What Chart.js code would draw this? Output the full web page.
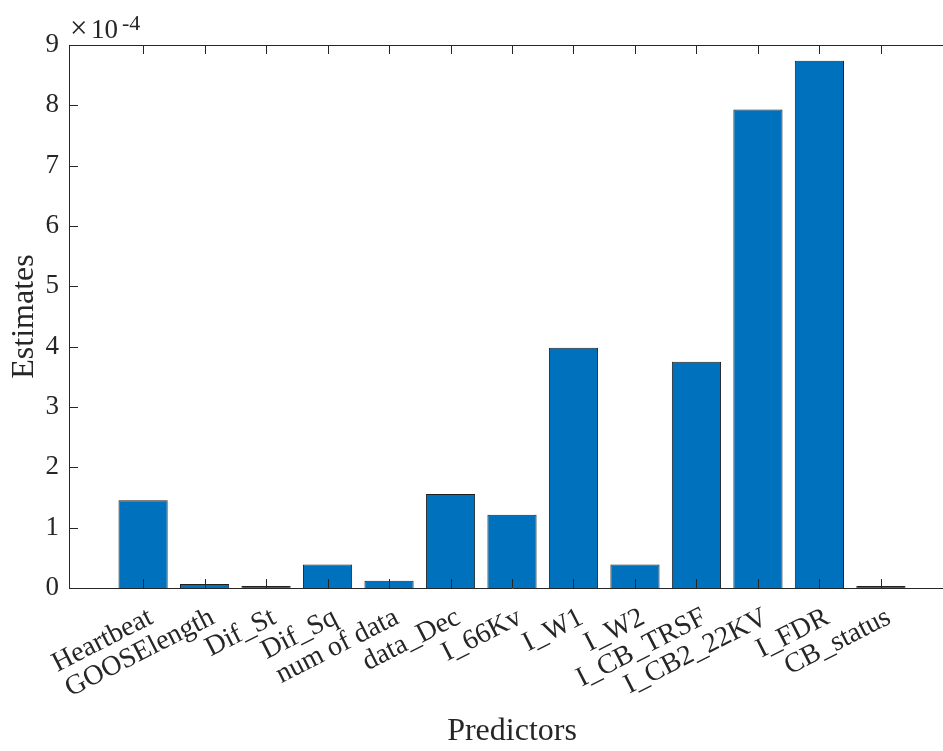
<!DOCTYPE html>
<html>
<head>
<meta charset="utf-8">
<script src="https://cdn.jsdelivr.net/npm/chart.js@4/dist/chart.umd.min.js"></script>
<style>
  html, body { margin: 0; padding: 0; background: #fff; overflow: hidden; }
  #wrap { width: 943px; height: 751px; overflow: hidden; }
  canvas { display: block; }
</style>
</head>
<body>
<div id="wrap"><canvas id="c" width="960" height="751"></canvas></div>
<script>
// Predictor names along the x axis
const predictors = ['Heartbeat', 'GOOSElength', 'Dif_St', 'Dif_Sq', 'num of data', 'data_Dec',
  'I_66Kv', 'I_W1', 'I_W2', 'I_CB_TRSF', 'I_CB2_22KV', 'I_FDR', 'CB_status'];
// Importance estimates, in units of 1e-4
const estimates = [1.455, 0.065, 0.03, 0.39, 0.12, 1.56, 1.215, 3.98, 0.39, 3.75, 7.93, 8.74, 0.005];
// y-axis tick values (same units)
const yTicks = [0, 1, 2, 3, 4, 5, 6, 7, 8, 9];
const exponentLabel = '-4';

const AXIS = '#262626';
const FONT = '"Liberation Serif", "Times New Roman", serif';
const TICK_PX = 28;
const TITLE_PX = 32;
const TICK_LEN = 9;

// Inward tick marks, full box outline and the axis multiplier
const matlabAxes = {
  id: 'matlabAxes',
  afterDraw(chart) {
    const { ctx, chartArea: a, scales } = chart;
    const xs = scales.x, ys = scales.y;
    ctx.save();
    ctx.strokeStyle = AXIS;
    ctx.lineWidth = 1;
    ctx.beginPath();
    // box
    ctx.moveTo(a.left, a.top + 0.5); ctx.lineTo(a.right, a.top + 0.5);
    ctx.moveTo(a.right - 0.5, a.top); ctx.lineTo(a.right - 0.5, a.bottom);
    // x ticks, bottom and top
    for (let i = 0; i < predictors.length; i++) {
      const px = Math.round(xs.getPixelForValue(i + 1)) + 0.5;
      ctx.moveTo(px, a.bottom); ctx.lineTo(px, a.bottom - TICK_LEN);
      ctx.moveTo(px, a.top); ctx.lineTo(px, a.top + TICK_LEN);
    }
    // y ticks, left and right
    yTicks.forEach(v => {
      const py = Math.round(ys.getPixelForValue(v)) + 0.5;
      ctx.moveTo(a.left, py); ctx.lineTo(a.left + TICK_LEN, py);
      ctx.moveTo(a.right, py); ctx.lineTo(a.right - TICK_LEN, py);
    });
    ctx.stroke();

    // ×10^-4 above the y axis
    ctx.fillStyle = AXIS;
    ctx.textBaseline = 'alphabetic';
    ctx.textAlign = 'left';
    const base = a.top - 7;
    const x0 = a.left + 1;
    ctx.font = '31px ' + FONT;
    ctx.fillText('\u00d7', x0, base);
    ctx.font = '27px ' + FONT;
    ctx.fillText('10', x0 + 21, base);
    ctx.font = '22px ' + FONT;
    ctx.fillText(exponentLabel, x0 + 52, base - 8);
    ctx.restore();
  }
};

new Chart(document.getElementById('c'), {
  type: 'bar',
  data: {
    datasets: [{
      data: estimates.map((v, i) => ({ x: i + 1, y: v })),
      backgroundColor: '#0072BD',
      borderColor: '#202020',
      borderWidth: 1,
      minBarLength: 2,
      barPercentage: 1,
      categoryPercentage: 0.8
    }]
  },
  options: {
    responsive: false,
    animation: false,
    devicePixelRatio: 1,
    layout: { padding: { left: 0, top: 45, right: 5, bottom: 0 } },
    plugins: { legend: { display: false }, tooltip: { enabled: false } },
    scales: {
      x: {
        type: 'linear',
        offset: false,
        min: -0.205,
        max: 14.205,
        grid: { display: false, drawTicks: false },
        border: { display: true, color: AXIS, width: 1 },
        afterBuildTicks: s => { s.ticks = predictors.map((_, i) => ({ value: i + 1 })); },
        afterFit: s => { s.height = 751 - 588; },
        ticks: {
          autoSkip: false,
          minRotation: 27,
          maxRotation: 27,
          padding: 13,
          labelOffset: 8,
          color: AXIS,
          font: { family: FONT, size: TICK_PX },
          callback: v => predictors[v - 1]
        },
        title: {
          display: true,
          text: 'Predictors',
          color: AXIS,
          font: { family: FONT, size: TITLE_PX },
          padding: { top: 0, bottom: 0 }
        }
      },
      y: {
        min: 0,
        max: 9,
        grid: { display: false, drawTicks: false },
        border: { display: true, color: AXIS, width: 1 },
        afterBuildTicks: s => { s.ticks = yTicks.map(v => ({ value: v })); },
        afterFit: s => { s.width = 69; },
        ticks: {
          padding: 10,
          color: AXIS,
          font: { family: FONT, size: 27 },
          callback: v => String(v)
        },
        title: {
          display: true,
          text: 'Estimates',
          color: AXIS,
          font: { family: FONT, size: TITLE_PX },
          padding: { top: 5, bottom: 0 }
        }
      }
    }
  },
  plugins: [matlabAxes]
});
</script>
</body>
</html>
